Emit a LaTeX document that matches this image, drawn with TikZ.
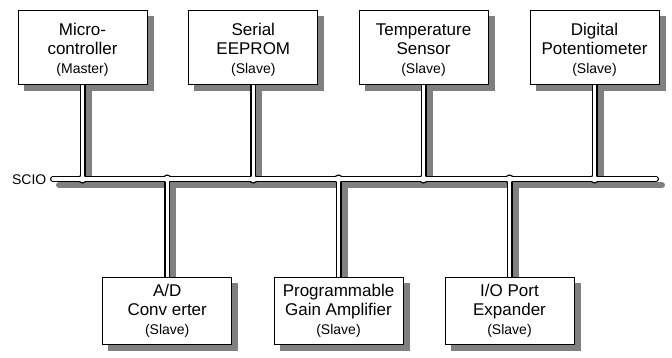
\documentclass[tikz,border=0pt]{standalone}
\usepackage{fontspec}
\setmainfont{Liberation Sans}
\newcommand\mybig{\fontsize{17}{19}\selectfont}
\newcommand\mysmall{\fontsize{14}{19}\selectfont}
\newcommand\topstrut{\rule{0pt}{17.5pt}}
\definecolor{shadowgray}{RGB}{128,128,128}
\pgfdeclarelayer{paper}
\pgfdeclarelayer{shadowlayer}
\pgfdeclarelayer{wireblk}
\pgfdeclarelayer{wirewht}
\pgfsetlayers{paper,shadowlayer,wireblk,wirewht,main}
\begin{document}
\begin{tikzpicture}[x=1pt,y=-1pt,
  box/.style={draw=black, fill=white, line width=1pt, minimum width=129pt, inner sep=0pt, align=center, font=\mybig},
  topbox/.style={box, minimum height=74.5pt},
  botbox/.style={box, minimum height=67pt},
  shiftshadow/.style={transform canvas={xshift=6pt,yshift=-6pt}},
  shadowline/.style={draw=shadowgray, line width=6pt, shiftshadow},
  shadowbox/.style={fill=shadowgray, shiftshadow},
  wireouter/.style={draw=black, line width=6pt},
  wireinner/.style={draw=white, line width=3.4pt},
]
\begin{pgfonlayer}{paper}
\useasboundingbox[fill=white] (0,0) rectangle (672,357);
\end{pgfonlayer}

% boxes
\node[topbox] (mc) at (82.5,47.3) {\topstrut Micro-\\controller\\{\mysmall (Master)}};
\node[topbox] (ee) at (253.3,47.3) {\topstrut Serial\\EEPROM\\{\mysmall (Slave)}};
\node[topbox] (ts) at (423.5,47.3) {\topstrut Temperature\\Sensor\\{\mysmall (Slave)}};
\node[topbox] (dp) at (594.5,47.3) {\topstrut Digital\\Potentiometer\\{\mysmall (Slave)}};
\node[botbox] (ad) at (167.2,310.5) {A/D\\Conv erter\\{\mysmall (Slave)}};
\node[botbox] (pg) at (338.5,310.5) {Programmable\\Gain Amplifier\\{\mysmall (Slave)}};
\node[botbox] (io) at (509.5,310.5) {I/O Port\\Expander\\{\mysmall (Slave)}};

% bus
\coordinate (busL) at (53,179);
\coordinate (busR) at (656,179);
\node[anchor=east, inner sep=0pt, font=\mysmall] (scio) at (46.5,179.5) {SCIO};
\coordinate (jmc) at (mc.south |- busL);
\coordinate (jee) at (ee.south |- busL);
\coordinate (jts) at (ts.south |- busL);
\coordinate (jdp) at (dp.south |- busL);
\coordinate (jad) at (ad.north |- busL);
\coordinate (jpg) at (pg.north |- busL);
\coordinate (jio) at (io.north |- busL);

% shadows
\begin{pgfonlayer}{shadowlayer}
  \foreach \b in {mc,ee,ts,dp,ad,pg,io}
    \fill[shadowbox] (\b.north west) rectangle (\b.south east);
  \draw[shadowline, line cap=round] (busL) -- (busR);
  \foreach \b in {mc,ee,ts,dp}
    \draw[shadowline] (\b.south) -- (j\b);
  \foreach \b in {ad,pg,io}
    \draw[shadowline] (\b.north) -- (j\b);
\end{pgfonlayer}

% black outlines of wires
\begin{pgfonlayer}{wireblk}
  \draw[wireouter, line cap=round] (busL) -- (busR);
  \foreach \b in {mc,ee,ts,dp}
    \draw[wireouter] (\b.south) -- (j\b);
  \foreach \b in {ad,pg,io}
    \draw[wireouter] (\b.north) -- (j\b);
  \foreach \b in {mc,ee,ts,dp,ad,pg,io}
    \fill[black] (j\b) circle (4.6);
\end{pgfonlayer}

% white interiors of wires
\begin{pgfonlayer}{wirewht}
  \draw[wireinner, line cap=round] (busL) -- (busR);
  \foreach \b in {mc,ee,ts,dp}
    \draw[wireinner] (\b.south) -- (j\b);
  \foreach \b in {ad,pg,io}
    \draw[wireinner] (\b.north) -- (j\b);
  \foreach \b in {mc,ee,ts,dp,ad,pg,io}
    \fill[white] (j\b) circle (3.2);
\end{pgfonlayer}
\end{tikzpicture}
\end{document}
